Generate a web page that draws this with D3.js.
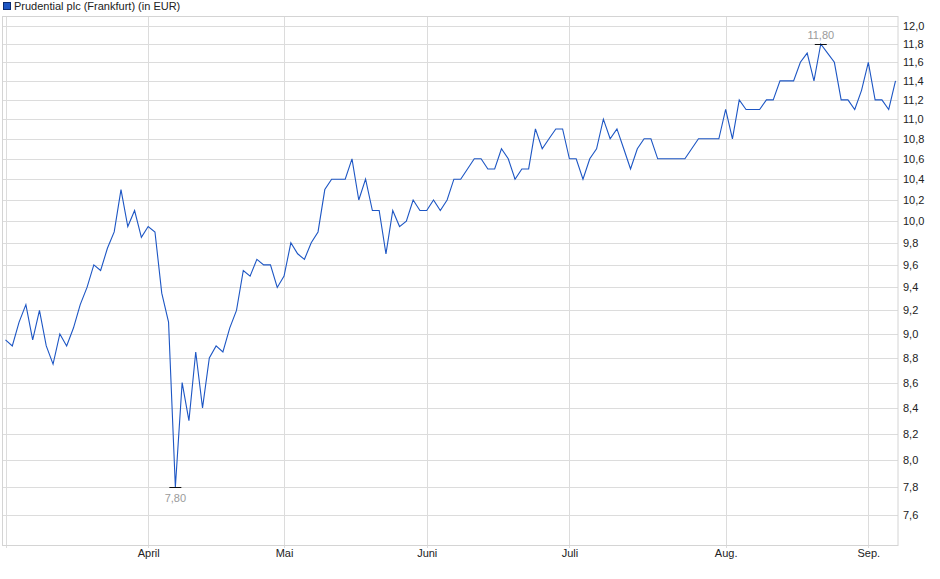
<!DOCTYPE html>
<html>
<head>
<meta charset="utf-8">
<script src="https://cdn.jsdelivr.net/npm/d3@7/dist/d3.min.js"></script>
<style>
  html, body { margin: 0; padding: 0; background: #fff; }
  svg { display: block; font-family: "Liberation Sans", Arial, sans-serif; }
</style>
</head>
<body>
<svg id="chart" width="940" height="579"></svg>
<script>
// ---- data (trading days, Frankfurt, 2025-03-03 .. 2025-09-05) ----
const title = "Prudential plc (Frankfurt) (in EUR)";
const prices = [
  // März
  8.95, 8.9, 9.1, 9.25, 8.95, 9.2, 8.9, 8.75, 9.0, 8.9,
  9.05, 9.25, 9.4, 9.6, 9.55, 9.75, 9.9, 10.3, 9.95, 10.1, 9.85,
  // April
  9.95, 9.9, 9.35, 9.1, 7.8, 8.6, 8.3, 8.85, 8.4, 8.8,
  8.9, 8.85, 9.05, 9.2, 9.55, 9.5, 9.65, 9.6, 9.6, 9.4,
  // Mai
  9.5, 9.8, 9.7, 9.65, 9.8, 9.9, 10.3, 10.4, 10.4, 10.4,
  10.6, 10.2, 10.4, 10.1, 10.1, 9.7, 10.1, 9.95, 10.0, 10.2, 10.1,
  // Juni
  10.1, 10.2, 10.1, 10.2, 10.4, 10.4, 10.5, 10.6, 10.6, 10.5,
  10.5, 10.7, 10.6, 10.4, 10.5, 10.5, 10.9, 10.7, 10.8, 10.9, 10.9,
  // Juli
  10.6, 10.6, 10.4, 10.6, 10.7, 11.0, 10.8, 10.9, 10.7, 10.5,
  10.7, 10.8, 10.8, 10.6, 10.6, 10.6, 10.6, 10.6, 10.7, 10.8,
  10.8, 10.8, 10.8,
  // Aug.
  11.1, 10.8, 11.2, 11.1, 11.1, 11.1, 11.2, 11.2, 11.4, 11.4,
  11.4, 11.6, 11.7, 11.4, 11.8, 11.7, 11.6, 11.2, 11.2, 11.1, 11.3,
  // Sep.
  11.6, 11.2, 11.2, 11.1, 11.4
];
const monthLabels = ["März", "April", "Mai", "Juni", "Juli", "Aug.", "Sep."];
const monthStartIndex = [0, 21, 41, 62, 83, 106, 127];
const yTicks = [7.6, 7.8, 8.0, 8.2, 8.4, 8.6, 8.8, 9.0, 9.2, 9.4, 9.6, 9.8,
                10.0, 10.2, 10.4, 10.6, 10.8, 11.0, 11.2, 11.4, 11.6, 11.8, 12.0];

// ---- layout ----
const svg = d3.select("#chart");
const plot = { left: 3, right: 898, top: 16, bottom: 545 };
const fmt = v => v.toFixed(1).replace(".", ",");
const fmt2 = v => v.toFixed(2).replace(".", ",");

const x = d3.scaleLinear().domain([0, prices.length - 1]).range([5.5, 895.5]);
const y = d3.scaleLog().domain([7.6, 12.0]).range([515, 26]);

// background
svg.append("rect").attr("x", 0).attr("y", 0).attr("width", 940).attr("height", 579).attr("fill", "#fff");

// horizontal gridlines
svg.append("g").selectAll("line").data(yTicks).join("line")
  .attr("x1", plot.left).attr("x2", plot.right)
  .attr("y1", d => Math.round(y(d)) + 0.5).attr("y2", d => Math.round(y(d)) + 0.5)
  .attr("stroke", "#dcdcdc").attr("stroke-width", 1);

// vertical month gridlines
svg.append("g").selectAll("line").data(monthStartIndex).join("line")
  .attr("x1", d => Math.round(x(d)) + 0.5).attr("x2", d => Math.round(x(d)) + 0.5)
  .attr("y1", plot.top).attr("y2", plot.bottom + 3)
  .attr("stroke", "#dcdcdc").attr("stroke-width", 1);

// plot border
svg.append("rect")
  .attr("x", plot.left - 0.5).attr("y", plot.top + 0.5)
  .attr("width", plot.right - plot.left + 0.5).attr("height", plot.bottom - plot.top)
  .attr("fill", "none").attr("stroke", "#d4d4d4").attr("stroke-width", 1);

// right axis labels
const yAxis = d3.axisRight(y).tickValues(yTicks).tickFormat(fmt).tickSize(0).tickPadding(5);
const ya = svg.append("g").attr("transform", `translate(${plot.right},0)`).call(yAxis);
ya.select(".domain").remove();
ya.selectAll("text").attr("font-size", 11).attr("fill", "#222")
  .attr("font-family", "Liberation Sans, Arial, sans-serif");

// bottom month labels
const xAxis = d3.axisBottom(x).tickValues(monthStartIndex.slice(1))
  .tickFormat((d, i) => monthLabels[i + 1]).tickSize(0).tickPadding(4);
const xa = svg.append("g").attr("transform", `translate(0,${plot.bottom})`).call(xAxis);
xa.select(".domain").remove();
xa.selectAll("text").attr("font-size", 11).attr("fill", "#222")
  .attr("font-family", "Liberation Sans, Arial, sans-serif");

// price line
const line = d3.line().x((d, i) => x(i)).y(d => y(d));
svg.append("path").datum(prices)
  .attr("d", line).attr("fill", "none")
  .attr("stroke", "#1d56c4").attr("stroke-width", 1.1)
  .attr("stroke-linejoin", "miter");

// min / max markers
const minV = d3.min(prices), maxV = d3.max(prices);
const minI = prices.indexOf(minV), maxI = prices.indexOf(maxV);
[[minI, minV, 14], [maxI, maxV, -6]].forEach(([i, v, dy]) => {
  const px = x(i), py = Math.round(y(v)) + 0.5;
  svg.append("line").attr("x1", px - 6).attr("x2", px + 6)
    .attr("y1", py).attr("y2", py).attr("stroke", "#111").attr("stroke-width", 1);
  svg.append("text").attr("x", px).attr("y", py + dy)
    .attr("text-anchor", "middle").attr("font-size", 11).attr("fill", "#9a9a9a")
    .text(fmt2(v));
});

// legend
svg.append("rect").attr("x", 3.5).attr("y", 2.5).attr("width", 7).attr("height", 7)
  .attr("fill", "#1d56c4").attr("stroke", "#0a2a70").attr("stroke-width", 1);
svg.append("text").attr("x", 14).attr("y", 10).attr("font-size", 11).attr("fill", "#222")
  .text(title);
</script>
</body>
</html>
